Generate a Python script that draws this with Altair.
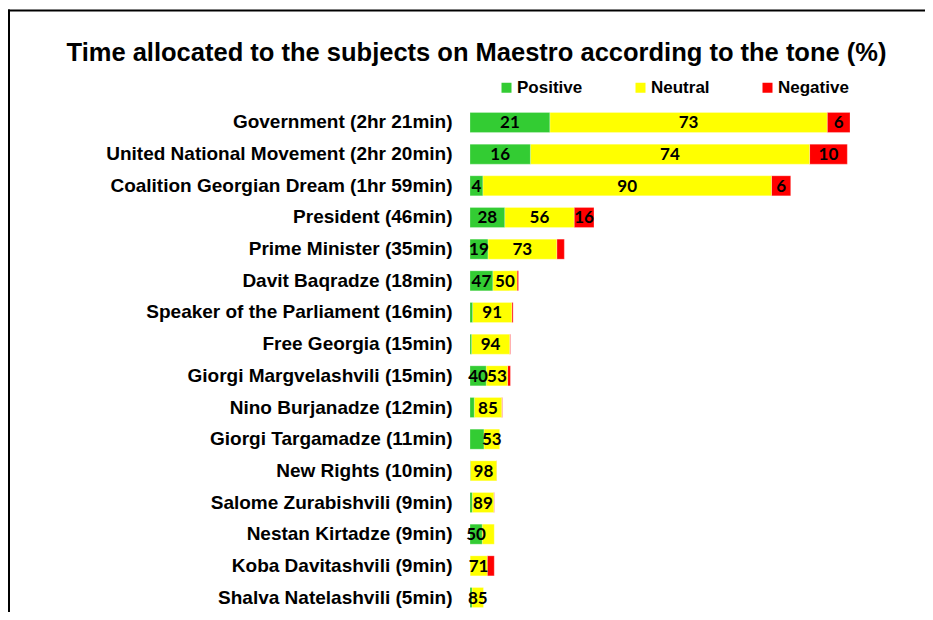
import altair as alt
import pandas as pd

title_text = "Time allocated to the subjects on Maestro according to the tone (%)"

subjects = [
    "Government (2hr 21min)",
    "United National Movement (2hr 20min)",
    "Coalition Georgian Dream (1hr 59min)",
    "President (46min)",
    "Prime Minister (35min)",
    "Davit Baqradze (18min)",
    "Speaker of the Parliament (16min)",
    "Free Georgia (15min)",
    "Giorgi Margvelashvili (15min)",
    "Nino Burjanadze (12min)",
    "Giorgi Targamadze (11min)",
    "New Rights (10min)",
    "Salome Zurabishvili (9min)",
    "Nestan Kirtadze (9min)",
    "Koba Davitashvili (9min)",
    "Shalva Natelashvili (5min)",
]
minutes = [141, 140, 119, 46, 35, 18, 16, 15, 15, 12, 11, 10, 9, 9, 9, 5]
positive = [21, 16, 4, 28, 19, 47, 6, 4, 40, 13, 47, 1, 9, 50, 0, 15]
neutral = [73, 74, 90, 56, 73, 50, 91, 94, 53, 85, 53, 98, 89, 50, 71, 85]
negative = [6, 10, 6, 16, 8, 3, 3, 2, 7, 2, 0, 1, 2, 0, 29, 0]

# which segment values carry a visible label
show_positive = [1, 1, 1, 1, 1, 1, 0, 0, 1, 0, 0, 0, 0, 1, 0, 0]
show_neutral = [1, 1, 1, 1, 1, 1, 1, 1, 1, 1, 1, 1, 1, 0, 1, 1]
show_negative = [1, 1, 1, 1, 0, 0, 0, 0, 0, 0, 0, 0, 0, 0, 0, 0]

tones = ["Positive", "Neutral", "Negative"]
colors = ["#33CC33", "#FFFF00", "#FF0000"]

rows = []
for i, s in enumerate(subjects):
    vals = [positive[i], neutral[i], negative[i]]
    shows = [show_positive[i], show_neutral[i], show_negative[i]]
    tot = sum(vals)
    cum = 0.0
    for t, v, sh in zip(tones, vals, shows):
        seg = minutes[i] * v / tot
        rows.append(dict(subject=s, tone=t, start=cum, end=cum + seg,
                         mid=cum + seg / 2, label=str(v) if sh and v > 0 else ""))
        cum += seg
df = pd.DataFrame(rows)

yenc = alt.Y("subject:N", sort=subjects, title=None,
             scale=alt.Scale(paddingInner=0.368, paddingOuter=0.141),
             axis=alt.Axis(domain=False, ticks=False, labelPadding=18, labelLimit=0,
                           labelFont="Liberation Sans", labelFontWeight="bold",
                           labelFontSize=19, labelColor="black"))
xscale = alt.Scale(domain=[0, 141], nice=False, zero=True)

bars = alt.Chart(df).mark_bar(stroke="white", strokeOpacity=0.5, strokeWidth=0.5).encode(
    y=yenc,
    x=alt.X("start:Q", scale=xscale, axis=None),
    x2="end:Q",
    color=alt.Color("tone:N", scale=alt.Scale(domain=tones, range=colors),
                    legend=alt.Legend(title=None, orient="none", legendX=28, legendY=-29,
                                      direction="horizontal", symbolType="square",
                                      symbolSize=100, symbolStrokeWidth=0, padding=0,
                                      labelFont="Liberation Sans", labelFontWeight="bold",
                                      labelFontSize=17, labelColor="black",
                                      columnPadding=49, labelOffset=2)),
    order=alt.Order("tone:N"),
)

labels = alt.Chart(df).transform_filter(alt.datum.label != "").mark_text(
    font="Lato", fontWeight="bold", fontSize=17, color="black",
    align="center", baseline="middle", dy=1
).encode(
    y=alt.Y("subject:N", sort=subjects),
    x=alt.X("mid:Q", scale=xscale),
    text="label:N",
)

title = alt.Chart(alt.Data(values=[{"t": title_text}])).mark_text(
    font="Liberation Sans", fontWeight="bold", fontSize=25.5, color="black",
    align="center", baseline="alphabetic"
).encode(x=alt.value(6.5), y=alt.value(-47), text="t:N")

frame_top = alt.Chart(alt.Data(values=[{}])).mark_rule(
    color="black", strokeWidth=2
).encode(x=alt.value(-462), x2=alt.value(1000), y=alt.value(-97.5))

frame_left = alt.Chart(alt.Data(values=[{}])).mark_rule(
    color="black", strokeWidth=2
).encode(x=alt.value(-461), y=alt.value(-98.5), y2=alt.value(700))

chart = alt.layer(bars, labels, title, frame_top, frame_left).properties(
    width=380, height=504,
    autosize=alt.AutoSizeParams(type="none"),
    padding={"left": 462, "top": 100, "right": 75, "bottom": 0},
).configure_view(stroke=None)

chart.save("out.html", embed_options={"renderer": "svg", "actions": False})
